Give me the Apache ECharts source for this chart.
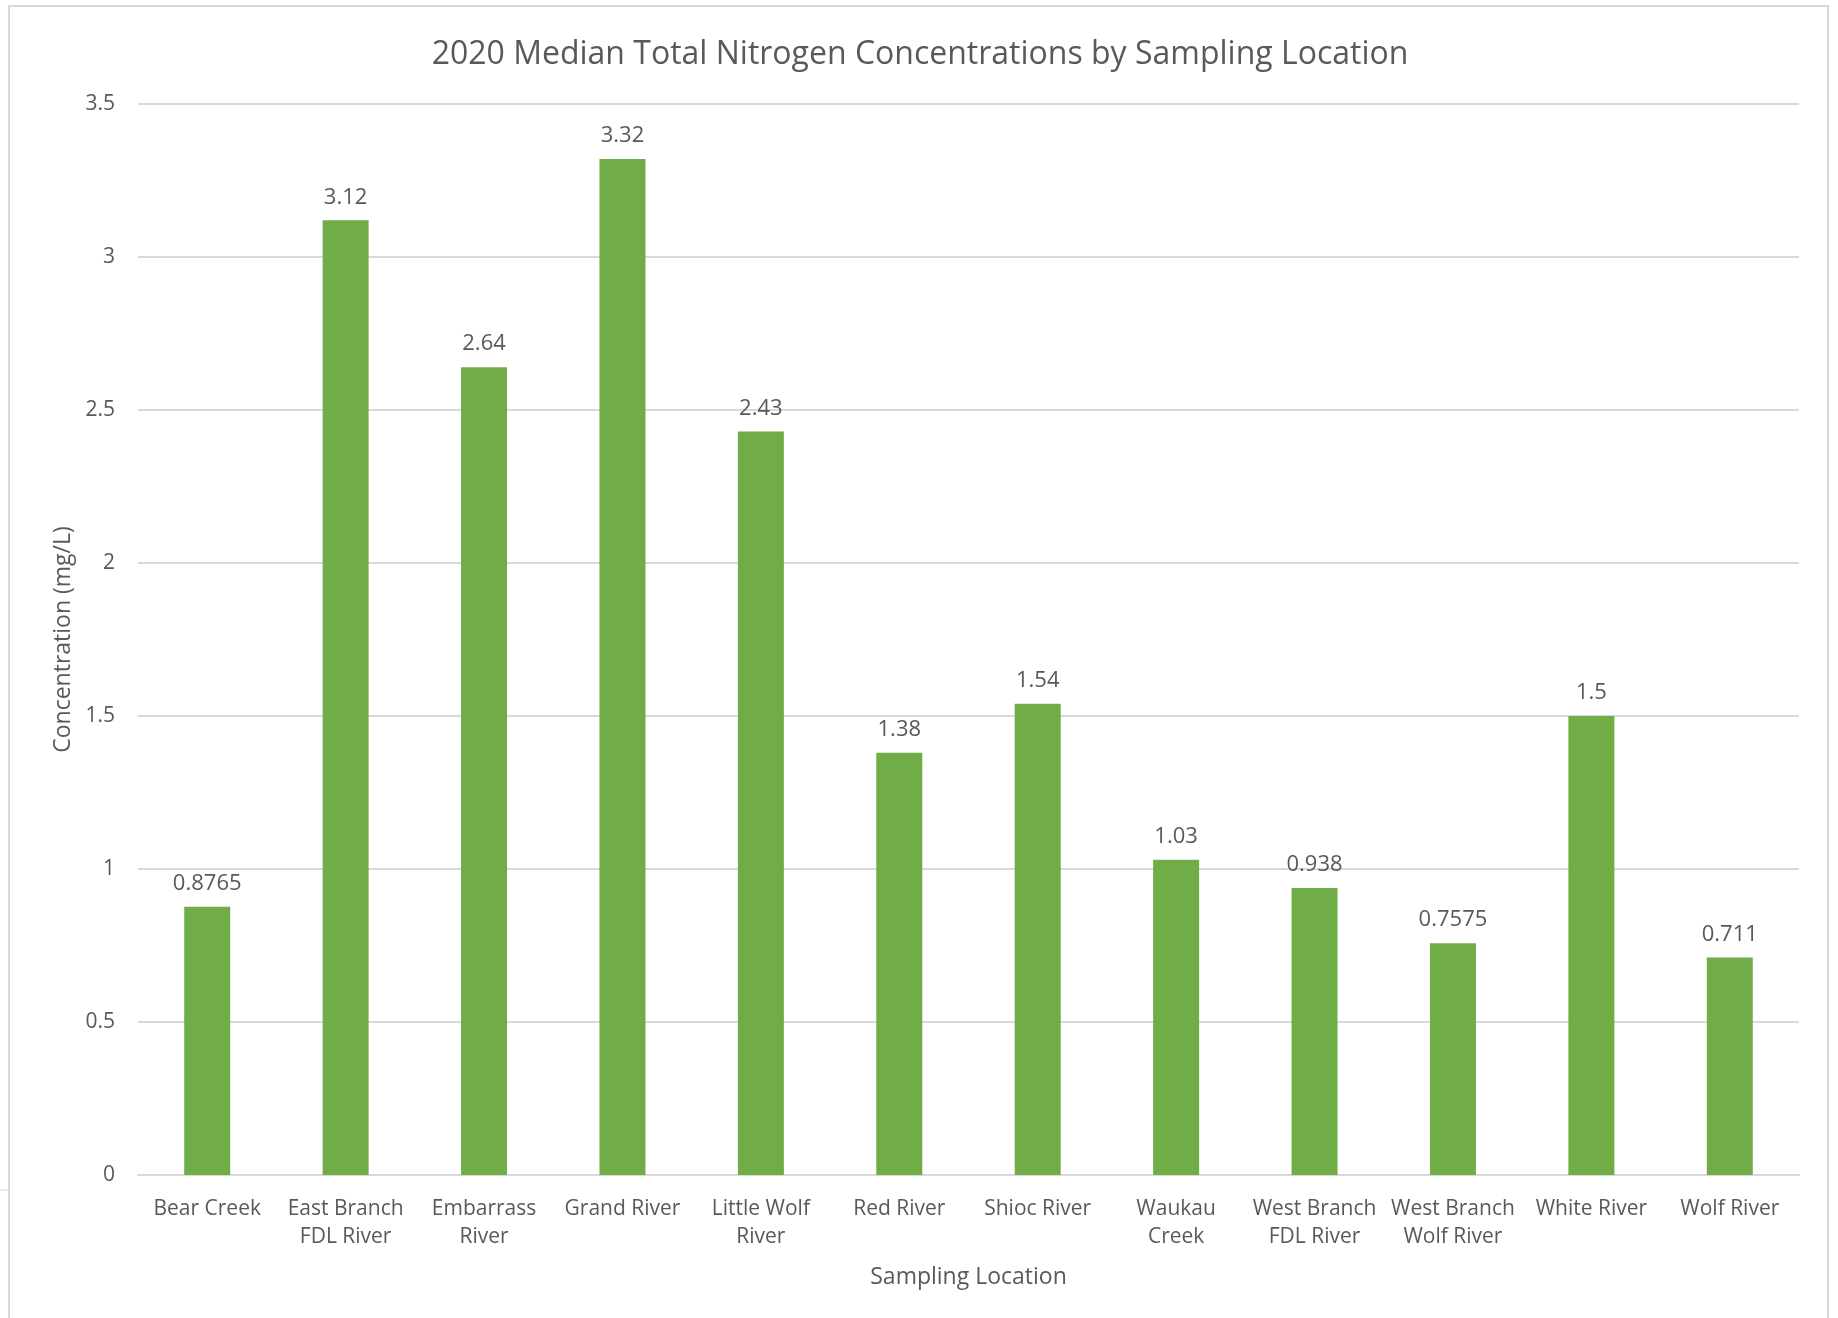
<!DOCTYPE html>
<html>
<head>
<meta charset="utf-8">
<script src="https://cdn.jsdelivr.net/npm/echarts@6/dist/echarts.min.js"></script>
<style>
  html, body { margin: 0; padding: 0; background: #fff; }
  #chart { width: 1838px; height: 1318px; }
</style>
</head>
<body>
<div id="chart"></div>
<script>
const locations = ['Bear Creek', 'East Branch\nFDL River', 'Embarrass\nRiver', 'Grand River', 'Little Wolf\nRiver', 'Red River', 'Shioc River', 'Waukau\nCreek', 'West Branch\nFDL River', 'West Branch\nWolf River', 'White River', 'Wolf River'];
const medianN = [0.8765, 3.12, 2.64, 3.32, 2.43, 1.38, 1.54, 1.03, 0.938, 0.7575, 1.5, 0.711];
const yTicks = [0, 0.5, 1, 1.5, 2, 2.5, 3, 3.5];

const txt = '#595959';
const font = '"Open Sans", sans-serif';

let chart = echarts.init(document.getElementById('chart'));
let option = {
  backgroundColor: '#fff',
  animation: false,
  textStyle: { fontFamily: font, color: txt },
  title: {
    text: '2020 Median Total Nitrogen Concentrations by Sampling Location',
    left: 915,
    top: 34,
    textAlign: 'center',
    textStyle: { fontFamily: font, fontSize: 32, fontWeight: 'normal', color: txt }
  },
  // outer chart frame like the spreadsheet export
  graphic: [
    {
      type: 'rect',
      shape: { x: 9, y: 6, width: 1819, height: 1330 },
      style: { fill: 'none', stroke: '#d9d9d9', lineWidth: 2 }
    },
    {
      type: 'line',
      shape: { x1: 0, y1: 1190, x2: 9, y2: 1190 },
      style: { stroke: '#d9d9d9', lineWidth: 1 }
    }
  ],
  grid: { left: 138, right: 39, top: 104, bottom: 143 },
  xAxis: {
    type: 'category',
    data: locations,
    name: 'Sampling Location',
    nameLocation: 'middle',
    nameGap: 91,
    nameTextStyle: { fontFamily: font, fontSize: 23, color: txt },
    axisLine: { lineStyle: { color: '#d9d9d9', width: 2 } },
    axisTick: { show: false },
    axisLabel: {
      interval: 0,
      margin: 20,
      fontFamily: font,
      fontSize: 21,
      lineHeight: 28,
      color: txt
    }
  },
  yAxis: {
    type: 'value',
    min: yTicks[0],
    max: yTicks[yTicks.length - 1],
    interval: 0.5,
    name: 'Concentration (mg/L)',
    nameLocation: 'middle',
    nameGap: 63,
    nameTextStyle: { fontFamily: font, fontSize: 23, color: txt },
    axisLine: { show: false },
    axisTick: { show: false },
    splitLine: { lineStyle: { color: '#d9d9d9', width: 2 } },
    axisLabel: { margin: 23, fontFamily: font, fontSize: 21, color: txt }
  },
  series: [
    {
      type: 'bar',
      data: medianN,
      barWidth: 46,
      itemStyle: { color: '#70ad47' },
      label: {
        show: true,
        position: 'top',
        distance: 12,
        fontFamily: font,
        fontSize: 22,
        color: txt
      }
    }
  ]
};
chart.setOption(option);
</script>
</body>
</html>
